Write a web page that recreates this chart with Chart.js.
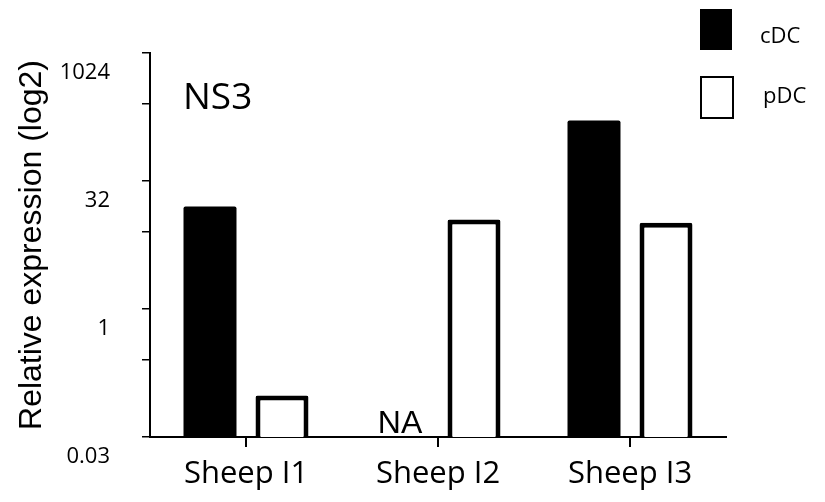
<!DOCTYPE html>
<html>
<head>
<meta charset="utf-8">
<script src="https://cdn.jsdelivr.net/npm/chart.js@4.4.1/dist/chart.umd.min.js"></script>
<style>
  html, body { margin: 0; padding: 0; background: #ffffff; }
  canvas { display: block; }
</style>
</head>
<body>
<canvas id="chart" width="825" height="502"></canvas>
<script>
// Relative NS3 expression per animal, dendritic cell subsets (log2 axis)
const categories = ['Sheep I1', 'Sheep I2', 'Sheep I3'];
const cdcValues = [16, null, 165];      // cDC: no value for Sheep I2 (NA)
const pdcValues = [0.096, 11.3, 10.3];  // pDC

const yMajorTicks = [0.03125, 1, 32, 1024];
const yMajorLabels = ['0.03', '1', '32', '1024'];
const yMinorTicks = [0.25, 8, 256];

const seriesNames = ['cDC', 'pDC'];
const missingLabel = 'NA';
const panelTitle = 'NS3';

const TEXT_FONT = '"Open Sans", "Noto Sans", sans-serif';
const AXIS_TITLE_FONT = '"Liberation Sans", Arial, sans-serif';

// Panel title, NA marker and legend drawn on top of the bars
const annotations = {
  id: 'annotations',
  afterDraw(chart) {
    const ctx = chart.ctx;
    const area = chart.chartArea;
    ctx.save();
    ctx.fillStyle = '#000';

    // panel title
    ctx.font = '37px ' + TEXT_FONT;
    ctx.textAlign = 'left';
    ctx.textBaseline = 'alphabetic';
    ctx.fillText(panelTitle, area.left + 33, 109);

    // "NA" over every missing cDC bar
    const meta = chart.getDatasetMeta(0);
    ctx.font = '32px ' + AXIS_TITLE_FONT;
    ctx.textAlign = 'center';
    cdcValues.forEach((v, i) => {
      if (v === null) {
        const el = meta.data[i];
        ctx.fillText(missingLabel, el.x - 2, area.bottom - 4);
      }
    });

    // legend
    const ds = chart.data.datasets;
    ctx.textAlign = 'left';
    ctx.font = '22px ' + TEXT_FONT;
    ctx.fillStyle = ds[0].backgroundColor;
    ctx.fillRect(700, 9, 32, 41);
    ctx.fillStyle = ds[1].backgroundColor;
    ctx.fillRect(701, 77, 32, 41);
    ctx.strokeStyle = ds[1].borderColor;
    ctx.lineWidth = 2;
    ctx.strokeRect(701, 77, 32, 41);
    ctx.fillStyle = '#000';
    ctx.fillText(ds[0].label, 760, 43);
    ctx.fillText(ds[1].label, 763, 103);
    ctx.restore();
  }
};

new Chart(document.getElementById('chart'), {
  type: 'bar',
  data: {
    labels: categories,
    datasets: [
      {
        label: seriesNames[0],
        data: cdcValues,
        backgroundColor: '#000000',
        borderColor: '#000000',
        borderWidth: 0,
        borderRadius: 2,
        borderSkipped: 'start'
      },
      {
        label: seriesNames[1],
        data: pdcValues,
        backgroundColor: '#ffffff',
        borderColor: '#000000',
        borderWidth: 5,
        borderRadius: 2,
        borderSkipped: 'start'
      }
    ]
  },
  options: {
    responsive: false,
    animation: false,
    events: [],
    categoryPercentage: 0.75,
    barPercentage: 0.736,
    layout: { padding: { top: 53, right: 99, bottom: 0, left: 12 } },
    plugins: {
      legend: { display: false },
      title: { display: false },
      tooltip: { enabled: false }
    },
    scales: {
      x: {
        type: 'category',
        offset: true,
        grid: {
          offset: false,
          drawOnChartArea: false,
          drawTicks: true,
          tickLength: 10,
          color: '#000',
          lineWidth: 2
        },
        border: { display: true, color: '#000', width: 2 },
        ticks: {
          color: '#000',
          font: { family: TEXT_FONT, size: 31 },
          padding: 9,
          maxRotation: 0,
          autoSkip: false
        },
        afterFit(scale) { scale.height = 65; }
      },
      y: {
        type: 'logarithmic',
        min: yMajorTicks[0],
        max: yMajorTicks[yMajorTicks.length - 1],
        grid: {
          drawOnChartArea: false,
          drawTicks: true,
          tickLength: 8,
          color: '#000',
          lineWidth: 1.5
        },
        border: { display: true, color: '#000', width: 2 },
        afterBuildTicks(scale) {
          const all = yMajorTicks.concat(yMinorTicks).sort((a, b) => a - b);
          scale.ticks = all.map(v => ({ value: v }));
        },
        ticks: {
          color: '#000',
          font: { family: TEXT_FONT, size: 22 },
          padding: 32,
          labelOffset: 20,
          autoSkip: false,
          callback(value) {
            const i = yMajorTicks.indexOf(value);
            return i >= 0 ? yMajorLabels[i] : '';
          }
        },
        title: {
          display: true,
          text: 'Relative expression (log2)',
          color: '#000',
          font: { family: AXIS_TITLE_FONT, size: 32, lineHeight: 1 },
          padding: { top: 4, bottom: 4 }
        },
        afterFit(scale) { scale.width = 138; }
      }
    }
  },
  plugins: [annotations]
});
</script>
</body>
</html>
